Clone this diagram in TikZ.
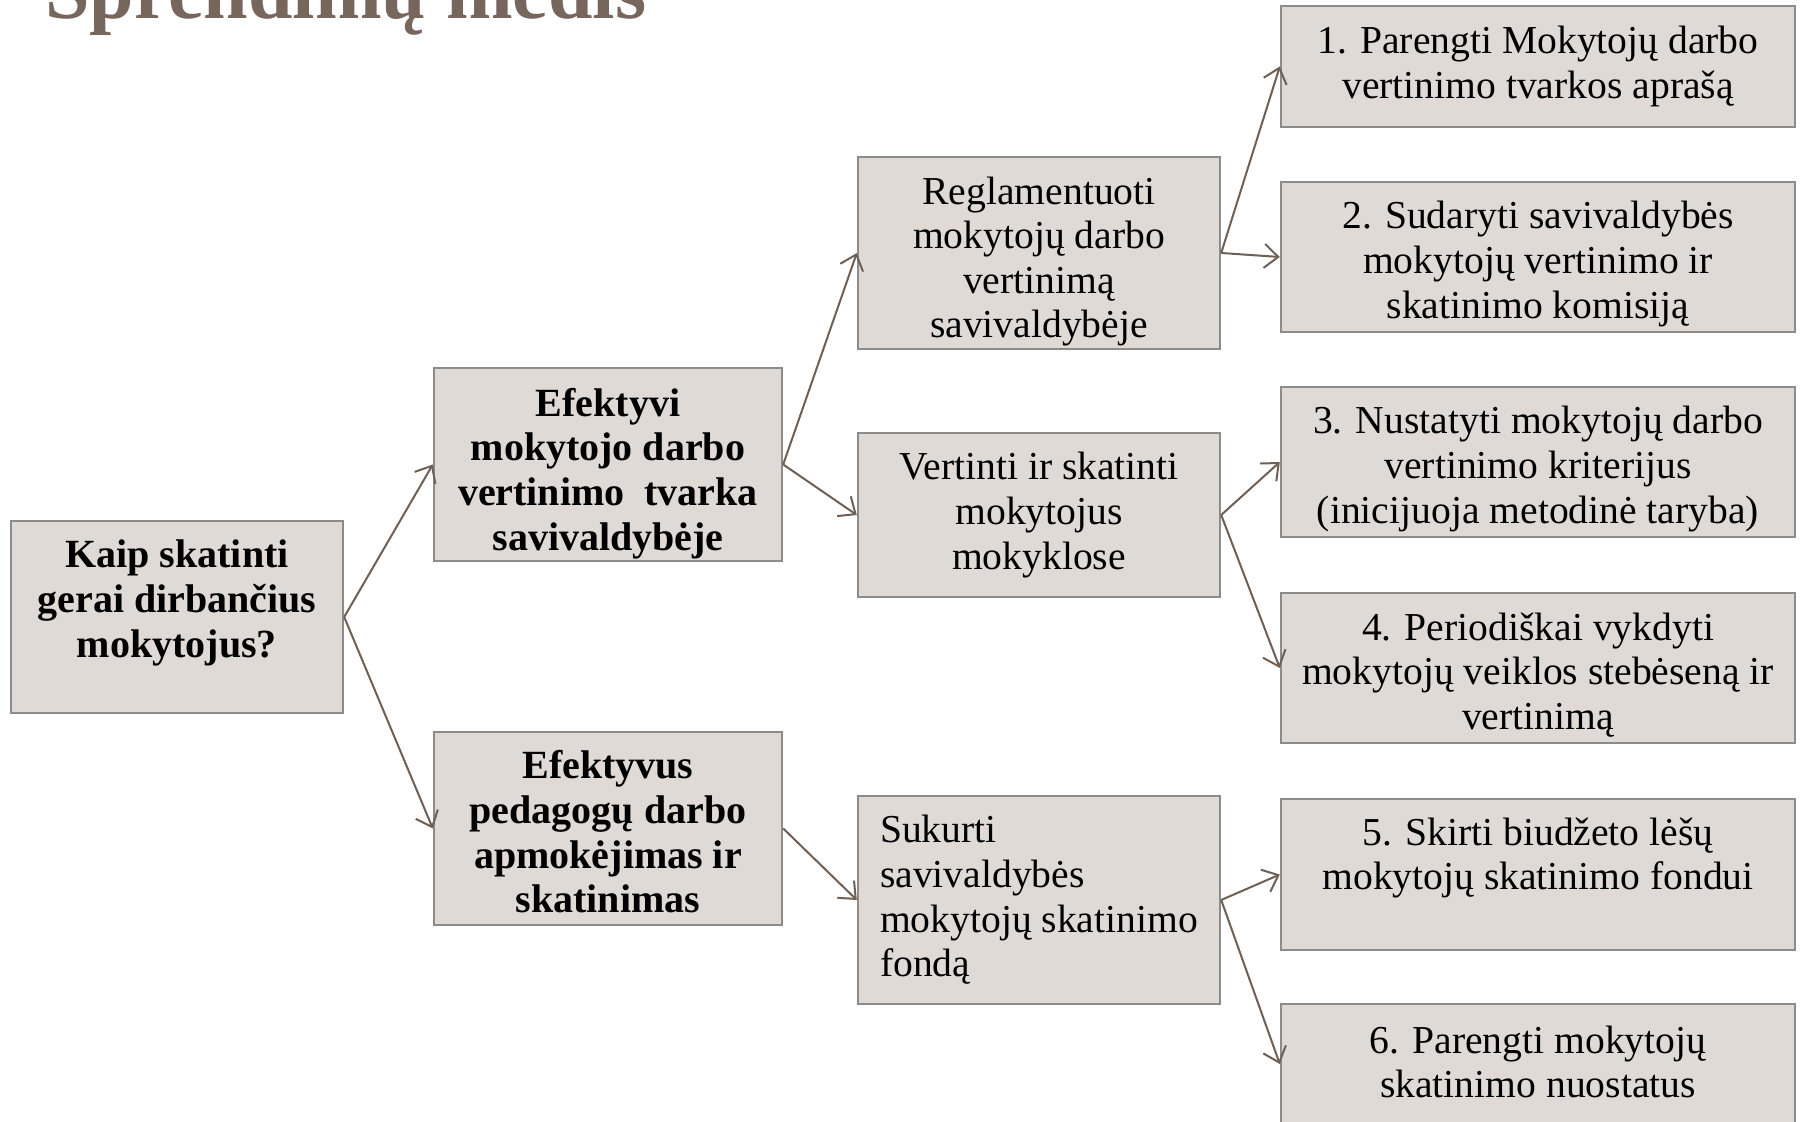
\documentclass[tikz,border=0pt]{standalone}
\usepackage{fontspec}
\setmainfont{Liberation Serif}
\usetikzlibrary{arrows.meta}
\definecolor{boxfill}{HTML}{DFDAD6}
\definecolor{boxline}{HTML}{8C8C8C}
\definecolor{arr}{HTML}{6F6056}
\definecolor{titlec}{HTML}{77665B}
\begin{document}
\begin{tikzpicture}[x=0.5pt,y=-0.5pt,
  box/.style={draw=boxline,line width=1.2pt,fill=boxfill,inner sep=0pt},
  txt/.style={inner sep=0pt,align=center,font=\fontsize{19.8}{22.3}\selectfont},
  btxt/.style={txt,font=\fontsize{20}{22.3}\selectfont\bfseries},
  conn/.style={draw=arr,line width=1pt,-{Straight Barb[length=7pt,width=12pt]}}]
\path[use as bounding box,fill=white] (0,0) rectangle (1800,1122);
\clip (0,0) rectangle (1800,1122);

\node[anchor=base west,inner sep=0pt,text=titlec,font=\fontsize{40}{48}\selectfont\bfseries] (title) at (45,19) {Sprendimų medis};

% boxes
\node[box,minimum width=166pt,minimum height=96pt] (root) at (177,617) {};
\node[box,minimum width=174pt,minimum height=96.5pt] (a) at (608,464.5) {};
\node[box,minimum width=174pt,minimum height=96.5pt] (b) at (608,828.5) {};
\node[box,minimum width=181pt,minimum height=96pt] (a1) at (1039,253) {};
\node[box,minimum width=181pt,minimum height=82pt] (a2) at (1039,515) {};
\node[box,minimum width=181pt,minimum height=104pt] (b1) at (1039,900) {};
\node[box,minimum width=257pt,minimum height=60.5pt] (l1) at (1538,66.5) {};
\node[box,minimum width=257pt,minimum height=75pt] (l2) at (1538,257) {};
\node[box,minimum width=257pt,minimum height=75pt] (l3) at (1538,462) {};
\node[box,minimum width=257pt,minimum height=75pt] (l4) at (1538,668) {};
\node[box,minimum width=257pt,minimum height=75.5pt] (l5) at (1538,874.5) {};
\node[box,minimum width=257pt,minimum height=60pt] (l6) at (1538,1064) {};

% texts
\node[btxt] (roott) at (177,603) {Kaip skatinti\\gerai dirbančius\\mokytojus?};
\node[btxt] (at) at (608,473.5) {Efektyvi\\mokytojo darbo\\vertinimo~ tvarka\\savivaldybėje};
\node[btxt] (bt) at (608,832) {Efektyvus\\pedagogų darbo\\apmokėjimas ir\\skatinimas};
\node[txt] (a1t) at (1039,261.5) {Reglamentuoti\\mokytojų darbo\\vertinimą\\savivaldybėje};
\node[txt] (a2t) at (1039,515) {Vertinti ir skatinti\\mokytojus\\mokyklose};
\node[txt,align=left] (b1t) at (1039,900) {Sukurti\\savivaldybės\\mokytojų skatinimo\\fondą};
\node[txt] (l1t) at (1538,66.5) {1. Parengti Mokytojų darbo\\vertinimo tvarkos aprašą};
\node[txt] (l2t) at (1538,264) {2. Sudaryti savivaldybės\\mokytojų vertinimo ir\\skatinimo komisiją};
\node[txt] (l3t) at (1538,469) {3. Nustatyti mokytojų darbo\\vertinimo kriterijus\\(inicijuoja metodinė taryba)};
\node[txt] (l4t) at (1538,675) {4. Periodiškai vykdyti\\mokytojų veiklos stebėseną ir\\vertinimą};
\node[txt] (l5t) at (1538,858) {5. Skirti biudžeto lėšų\\mokytojų skatinimo fondui};
\node[txt] (l6t) at (1538,1062) {6. Parengti mokytojų\\skatinimo nuostatus};

% connectors
\draw[conn] (root.east) -- (a.west);
\draw[conn] (root.east) -- (b.west);
\draw[conn] (a.east) -- (a1.west);
\draw[conn] (a.east) -- (a2.west);
\draw[conn] (b.east) -- (b1.west);
\draw[conn] (a1.east) -- (l1.west);
\draw[conn] (a1.east) -- (l2.west);
\draw[conn] (a2.east) -- (l3.west);
\draw[conn] (a2.east) -- (l4.west);
\draw[conn] (b1.east) -- (l5.west);
\draw[conn] (b1.east) -- (l6.west);
\end{tikzpicture}
\end{document}
